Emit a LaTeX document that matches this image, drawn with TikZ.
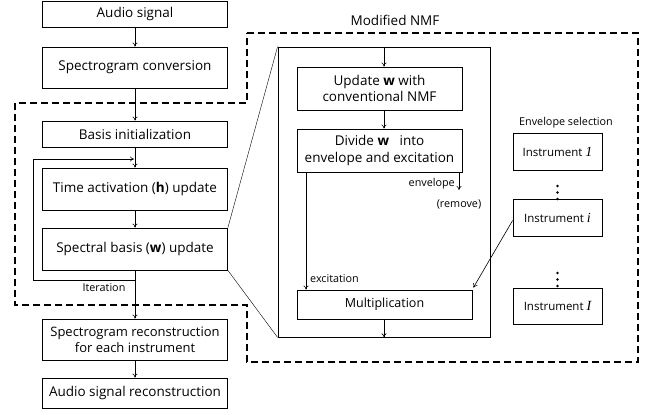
\documentclass[tikz,border=0pt]{standalone}
\usepackage{fontspec}
\setmainfont{Open Sans}
\newfontfamily\serifit{Liberation Serif}
\usetikzlibrary{arrows.meta,calc}
\newcommand{\instvar}[1]{{\fontsize{14}{14}\selectfont\serifit\itshape #1}}
\begin{document}
\begin{tikzpicture}[x=1pt,y=-1pt,
  box/.style={draw,line width=0.8pt,minimum width=185pt,inner sep=0pt,align=center,font=\fontsize{13.5}{16.5}\selectfont},
  ibox/.style={draw,line width=0.8pt,inner sep=0pt,align=center,font=\fontsize{13.5}{16.5}\selectfont},
  instbox/.style={ibox,minimum width=89pt,font=\fontsize{11.5}{14}\selectfont},
  small/.style={font=\fontsize{10.8}{12}\selectfont,inner sep=1pt},
  arr/.style={-{To[length=4pt,width=5pt]},line width=0.6pt},
  ln/.style={line width=0.6pt}]
\useasboundingbox (0,0) rectangle (649,415);
% left column
\node[box,minimum height=26pt] (audio) at (135,14) {Audio signal};
\node[box,minimum height=41pt] (spec) at (135,67.5) {Spectrogram conversion};
\node[box,minimum height=26pt] (basis) at (135,134) {Basis initialization};
\node[box,minimum height=42pt] (time) at (135,189) {Time activation (\textbf{h}) update};
\node[box,minimum height=42pt] (spectral) at (135,249) {Spectral basis (\textbf{w}) update};
\node[box,minimum height=41pt,font=\fontsize{13}{16}\selectfont] (recon) at (135,339.5) {Spectrogram reconstruction\\for each instrument};
\node[box,minimum height=30pt] (arecon) at (135,393) {Audio signal reconstruction};
\draw[arr] (audio) -- (spec);
\draw[arr] (spec) -- (basis);
\draw[arr] (basis) -- (time);
\draw[arr] (time) -- (spectral);
\draw[arr] (spectral) -- (recon);
\draw[arr] (recon) -- (arecon);
% iteration loop
\coordinate (lb) at (33,280);
\coordinate (lt) at (33,159);
\draw[arr] (spectral.south |- lb) -- (lb) -- (lt) -- ($(basis.south |- lt)+(-1,0)$);
\node[small] (iter) at (104,288) {Iteration};
% dashed region
\draw[dashed,line width=1.2pt,dash pattern=on 7pt off 4pt]
  (247,33) -- (638,33) -- (638,362) -- (247,362) -- (247,305) -- (15,305) -- (15,103) -- (247,103) -- cycle;
\node[font=\fontsize{13.5}{16}\selectfont] (mnmf) at (395,20) {Modified NMF};
% inner box
\node[draw,line width=0.8pt,minimum width=212pt,minimum height=290pt,inner sep=0pt] (inner) at (384,192) {};
\draw[line width=0.4pt] (spectral.north east) -- (inner.north west);
\draw[line width=0.4pt] (spectral.south east) -- (inner.south west);
\node[ibox,minimum width=165pt,minimum height=43pt] (update) at (379.5,88.5) {Update \textbf{w} with\\conventional NMF};
\node[ibox,minimum width=165pt,minimum height=43pt] (divide) at (379.5,150.5) {Divide \textbf{w}~~ into\\envelope and excitation};
\node[ibox,minimum width=175pt,minimum height=29pt,font=\fontsize{12.5}{15}\selectfont] (mult) at (384.5,304.5) {Multiplication};
\draw[arr] (inner.north) -- (inner.north |- update.north);
\draw[arr] (inner.north |- update.south) -- (inner.north |- divide.north);
\draw[arr] (inner.north |- mult.south) -- (inner.south);
\coordinate (exA) at (306,172);
\draw[arr] (exA) -- (exA |- mult.north);
\node[small,anchor=west] (exc) at (309,279) {excitation};
\coordinate (envA) at (459,172);
\coordinate (envB) at (459,190);
\draw[arr] (envA) -- (envB);
\node[small,anchor=east] (env) at (456,184) {envelope};
\node[small] (rem) at (459,204) {(remove)};
% instruments
\node[small] (envsel) at (566,123) {Envelope selection};
\node[instbox,minimum height=37pt] (i1) at (557.5,151.5) {Instrument \instvar{1}};
\node[instbox,minimum height=37pt] (ii) at (557.5,217.5) {Instrument \instvar{i}};
\node[instbox,minimum height=36pt] (iI) at (557.5,306) {Instrument \instvar{I}};
\foreach \y in {186,192.5,199} \fill (557.5,\y) circle (1.4pt);
\foreach \y in {273,279.5,286} \fill (557.5,\y) circle (1.4pt);
\draw[arr] ($(ii.west)+(0,3)$) -- ($(mult.north east)+(1,-2)$);
\end{tikzpicture}
\end{document}
